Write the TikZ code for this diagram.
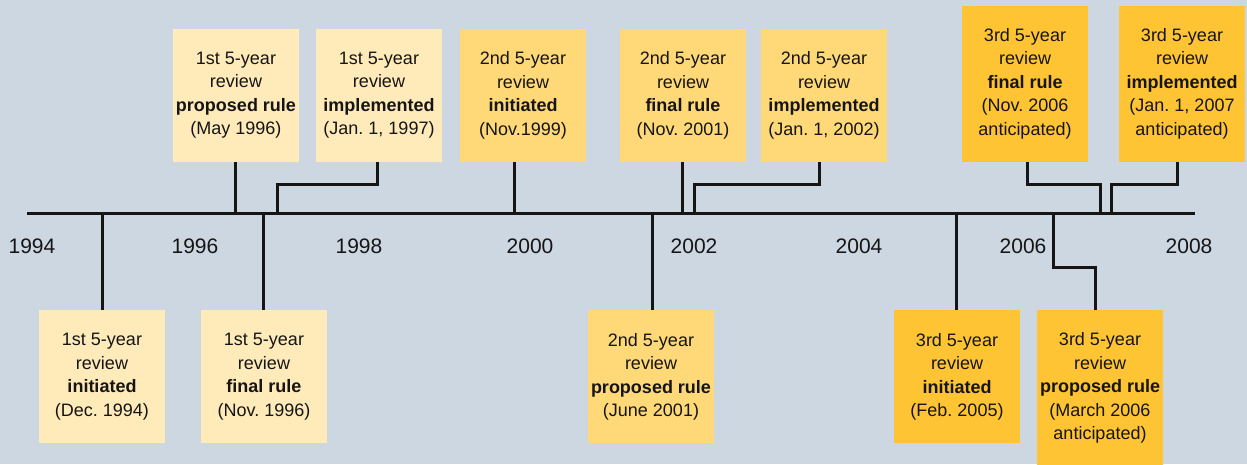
\documentclass[tikz,border=0pt]{standalone}
\usepackage{fontspec}
\setmainfont{Liberation Sans}
\frenchspacing
\definecolor{bg}{HTML}{CDD7E1}
\definecolor{firstc}{HTML}{FFEBB9}
\definecolor{secondc}{HTML}{FFD978}
\definecolor{thirdc}{HTML}{FFC433}
\definecolor{ink}{HTML}{151515}
\begin{document}
\begin{tikzpicture}[x=1pt,y=-1pt,
  ev/.style={align=center, inner xsep=0pt, inner ysep=0pt, minimum width=126pt,
    font=\fontsize{18}{23.5}\selectfont\frenchspacing, minimum height=133pt, text=ink},
  ev5/.style={ev, minimum height=156pt},
  yr/.style={font=\fontsize{21}{21}\selectfont, anchor=base, text=ink},
  conn/.style={line width=3pt, draw=ink},
  tl/.style={line width=3pt, draw=ink}]
\useasboundingbox (0,0) rectangle (1247,464);
\clip (0,0) rectangle (1247,464);
\fill[bg] (0,0) rectangle (1247,464);

% timeline
\coordinate (L) at (27,213);
\coordinate (R) at (1195,213);
\draw[tl] (L) -- (R);

% year labels
\node[yr] (y94) at (32,253) {1994};
\node[yr] (y96) at (195,253) {1996};
\node[yr] (y98) at (359,253) {1998};
\node[yr] (y00) at (530,253) {2000};
\node[yr] (y02) at (694,253) {2002};
\node[yr] (y04) at (859,253) {2004};
\node[yr] (y06) at (1023,253) {2006};
\node[yr] (y08) at (1189,253) {2008};

% top boxes
\node[ev, fill=firstc, anchor=south] (a1) at (236,162) {1st 5-year\\review\\\textbf{proposed rule}\\(May 1996)};
\node[ev, fill=firstc, anchor=south] (a2) at (379,162) {1st 5-year\\review\\\textbf{implemented}\\(Jan. 1, 1997)};
\node[ev, fill=secondc, anchor=south] (a3) at (523,162) {2nd 5-year\\review\\\textbf{initiated}\\(Nov.1999)};
\node[ev, fill=secondc, anchor=south] (a4) at (683,162) {2nd 5-year\\review\\\textbf{final rule}\\(Nov. 2001)};
\node[ev, fill=secondc, anchor=south] (a5) at (824,162) {2nd 5-year\\review\\\textbf{implemented}\\(Jan. 1, 2002)};
\node[ev5, fill=thirdc, anchor=south] (a6) at (1025,162) {3rd 5-year\\review\\\textbf{final rule}\\(Nov. 2006\\anticipated)};
\node[ev5, fill=thirdc, anchor=south] (a7) at (1182,162) {3rd 5-year\\review\\\textbf{implemented}\\(Jan. 1, 2007\\anticipated)};

% bottom boxes
\node[ev, fill=firstc, anchor=north] (b1) at (102,310) {1st 5-year\\review\\\textbf{initiated}\\(Dec. 1994)};
\node[ev, fill=firstc, anchor=north] (b2) at (264,310) {1st 5-year\\review\\\textbf{final rule}\\(Nov. 1996)};
\node[ev, fill=secondc, anchor=north] (b3) at (651,310) {2nd 5-year\\review\\\textbf{proposed rule}\\(June 2001)};
\node[ev, fill=thirdc, anchor=north] (b4) at (957,310) {3rd 5-year\\review\\\textbf{initiated}\\(Feb. 2005)};
\node[ev5, fill=thirdc, anchor=north] (b5) at (1100,310) {3rd 5-year\\review\\\textbf{proposed rule}\\(March 2006\\anticipated)};

% top connectors
\coordinate (s1) at (235,213);
\draw[conn] (a1.south -| s1) -- (s1);
\coordinate (s2a) at (377,184);
\coordinate (s2b) at (277,184);
\coordinate (s2) at (277,213);
\draw[conn] (a2.south -| s2a) -- (s2a) -- (s2b) -- (s2);
\coordinate (s3) at (514,213);
\draw[conn] (a3.south -| s3) -- (s3);
\coordinate (s4) at (682,213);
\draw[conn] (a4.south -| s4) -- (s4);
\coordinate (s5a) at (819,184);
\coordinate (s5b) at (694,184);
\coordinate (s5) at (694,213);
\draw[conn] (a5.south -| s5a) -- (s5a) -- (s5b) -- (s5);
\coordinate (s6a) at (1027,184);
\coordinate (s6b) at (1100,184);
\coordinate (s6) at (1100,213);
\draw[conn] (a6.south -| s6a) -- (s6a) -- (s6b) -- (s6);
\coordinate (s7a) at (1177,184);
\coordinate (s7b) at (1111,184);
\coordinate (s7) at (1111,213);
\draw[conn] (a7.south -| s7a) -- (s7a) -- (s7b) -- (s7);

% bottom connectors
\coordinate (d1) at (102,213);
\draw[conn] (d1) -- (b1.north -| d1);
\coordinate (d2) at (263,213);
\draw[conn] (d2) -- (b2.north -| d2);
\coordinate (d3) at (652,213);
\draw[conn] (d3) -- (b3.north -| d3);
\coordinate (d4) at (956,213);
\draw[conn] (d4) -- (b4.north -| d4);
\coordinate (d5) at (1053,213);
\coordinate (d5a) at (1053,267);
\coordinate (d5b) at (1095,267);
\draw[conn] (d5) -- (d5a) -- (d5b) -- (b5.north -| d5b);
\end{tikzpicture}
\end{document}
